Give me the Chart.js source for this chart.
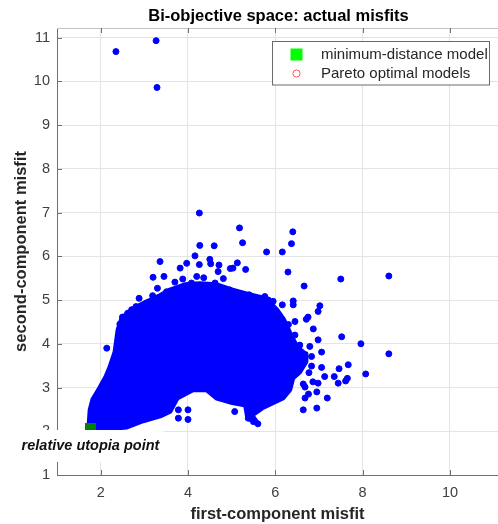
<!DOCTYPE html>
<html>
<head>
<meta charset="utf-8">
<title>Bi-objective space: actual misfits</title>
<script src="https://cdn.jsdelivr.net/npm/chart.js@4.4.1/dist/chart.umd.min.js"></script>
<style>
  html, body { margin: 0; padding: 0; background: #ffffff; }
  #wrap { width: 498px; height: 524px; position: relative; }
</style>
</head>
<body>
<div id="wrap"><canvas id="chart" width="498" height="524"></canvas></div>
<script>
// ---- axis ticks ----
const xTickValues = [2, 4, 6, 8, 10];
const yTickValues = [1, 2, 3, 4, 5, 6, 7, 8, 9, 10, 11];

// ---- minimum-distance model (relative utopia point) ----
const utopiaX = [1.767];
const utopiaY = [2.063];

// ---- Pareto optimal models ----
const paretoX = [1.767];
const paretoY = [2.063];

// ---- outline of the dense block of models (first / second misfit) ----
const cloudX = [1.73, 1.76, 1.82, 1.98, 2.12, 2.21, 2.33, 2.40, 2.49, 2.78, 3.06, 3.36, 3.59, 3.93, 4.27, 4.64, 5.00, 5.42, 5.78, 6.03,
                6.19, 6.33, 6.49, 6.68, 6.70, 6.56, 6.40, 6.33, 6.17, 5.94, 5.69, 5.46, 5.58, 5.37, 5.32, 4.96, 4.66, 4.43, 4.11, 3.75,
                3.59, 3.36, 2.97, 2.60, 2.21, 1.73];
const cloudY = [2.06, 2.49, 2.72, 2.99, 3.24, 3.45, 3.81, 4.32, 4.59, 4.82, 4.96, 5.10, 5.23, 5.35, 5.37, 5.35, 5.23, 5.12, 5.03, 4.78,
                4.55, 4.25, 3.93, 3.77, 3.59, 3.36, 3.22, 2.95, 2.76, 2.65, 2.53, 2.37, 2.19, 2.30, 2.60, 2.67, 2.76, 2.95, 2.95, 2.76,
                2.46, 2.35, 2.24, 2.10, 2.06, 2.06];

// ---- individual models around the dense block ----
const modelX = [2.35, 3.27, 3.29,
  4.26, 5.18, 6.40, 4.27, 4.60, 5.25, 6.37, 5.80, 6.16, 4.16, 3.36, 4.50, 4.52, 5.13, 4.71, 4.26, 3.97,
  3.82, 5.32, 4.97, 4.69, 6.29, 7.50, 8.60, 6.66, 4.36, 3.20, 3.45, 3.88, 3.70, 3.30, 2.88, 3.19, 2.81, 2.50,
  3.51, 4.39, 4.62, 4.81, 4.96, 4.08, 3.97, 3.05, 3.19, 3.39, 4.20, 5.03,
  6.41, 6.41, 7.02, 6.98, 6.75, 6.16, 5.95, 5.76, 5.40, 5.84, 6.71, 6.87, 6.98, 7.06, 7.52, 7.96, 8.60, 8.07,
  7.67, 7.46, 7.35, 7.65, 7.61, 7.44, 7.19, 6.95, 6.64, 6.95, 6.76, 6.68, 7.13, 7.06, 6.79, 6.83, 6.83, 6.77,
  6.86, 6.98, 6.64, 6.68, 6.45, 6.56, 6.45, 6.30,
  3.78, 4.00, 3.78, 4.00, 5.07, 5.38, 5.60, 5.50, 2.14,
  2.98, 2.71, 2.62, 2.44];
const modelY = [10.68, 10.93, 9.86,
  6.99, 6.65, 6.56, 6.25, 6.24, 6.31, 6.29, 6.10, 6.10, 6.01, 5.88, 5.93, 5.83, 5.85, 5.80, 5.81, 5.84,
  5.73, 5.70, 5.72, 5.65, 5.64, 5.48, 5.55, 5.32, 5.51, 5.52, 5.54, 5.48, 5.41, 5.27, 5.04, 5.10, 4.85, 4.61,
  5.19, 5.27, 5.39, 5.49, 5.23, 5.39, 5.25, 4.93, 4.81, 5.00, 5.54, 5.73,
  4.98, 4.89, 4.87, 4.74, 4.61, 4.89, 4.97, 5.08, 5.12, 5.00, 4.56, 4.34, 4.09, 3.81, 4.16, 4.00, 3.77, 3.31,
  3.52, 3.43, 3.25, 3.21, 3.15, 3.10, 2.76, 2.53, 2.49, 2.90, 2.85, 2.76, 3.25, 3.46, 3.94, 3.71, 3.49, 3.34,
  3.13, 3.10, 3.08, 3.01, 4.20, 3.97, 4.51, 4.44,
  2.49, 2.49, 2.30, 2.27, 2.45, 2.30, 2.17, 2.22, 3.90,
  4.70, 4.78, 4.70, 4.45];

const FONT = '"Liberation Sans", Arial, Helvetica, sans-serif';
const BLUE = '#0000ff';
const toPoints = (xs, ys) => xs.map((x, i) => ({ x: x, y: ys[i] }));

// keep the plot area flush with the fixed axis sizes
const noEdgePadding = s => { s.paddingLeft = 0; s.paddingRight = 0; s.paddingTop = 0; s.paddingBottom = 0; };

// Title, box top edge and inward tick marks
const axesFrame = {
  id: 'axesFrame',
  afterDatasetsDraw(chart) {
    const { ctx, chartArea: a, scales: { x, y } } = chart;
    ctx.save();
    ctx.strokeStyle = '#c4c4c4';
    ctx.lineWidth = 1;
    ctx.beginPath();
    ctx.moveTo(a.left, a.top + 0.5);
    ctx.lineTo(a.right, a.top + 0.5);
    ctx.stroke();
    ctx.strokeStyle = '#707070';
    ctx.beginPath();
    xTickValues.forEach(v => {
      const px = Math.round(x.getPixelForValue(v)) + 0.5;
      ctx.moveTo(px, a.bottom); ctx.lineTo(px, a.bottom - 5);
      ctx.moveTo(px, a.top); ctx.lineTo(px, a.top + 5);
    });
    yTickValues.forEach(v => {
      const py = Math.round(y.getPixelForValue(v)) + 0.5;
      ctx.moveTo(a.left, py); ctx.lineTo(a.left + 5, py);
    });
    ctx.stroke();

    ctx.fillStyle = '#000000';
    ctx.font = 'bold 16.5px ' + FONT;
    ctx.textAlign = 'center';
    ctx.textBaseline = 'middle';
    ctx.fillText('Bi-objective space: actual misfits', (a.left + a.right) / 2 + 1, 16);
    ctx.restore();
  }
};

// Text label under the utopia point, on a white background
const utopiaLabel = {
  id: 'utopiaLabel',
  afterDatasetsDraw(chart) {
    const { ctx, scales: { x, y } } = chart;
    const cx = x.getPixelForValue(utopiaX[0]);
    const top = y.getPixelForValue(utopiaY[0]) + 1.5;
    const text = 'relative utopia point';
    ctx.save();
    ctx.font = 'italic bold 14.5px ' + FONT;
    const w = ctx.measureText(text).width;
    ctx.fillStyle = '#ffffff';
    ctx.fillRect(cx - w / 2 - 4, top, w + 8, 32);
    ctx.fillStyle = '#111111';
    ctx.textAlign = 'center';
    ctx.textBaseline = 'middle';
    ctx.fillText(text, cx, top + 16);
    ctx.restore();
  }
};

// Legend box in the upper right corner
const legendBox = {
  id: 'legendBox',
  afterDraw(chart) {
    const { ctx, chartArea: a } = chart;
    const ds = chart.data.datasets;
    const left = 272.5, top = a.top + 13.5;
    const textX = left + 48.5;
    ctx.save();
    ctx.font = '15px ' + FONT;
    const w = Math.max(ctx.measureText(ds[0].label).width, ctx.measureText(ds[1].label).width);
    const right = Math.round(textX + w + 1) + 0.5;
    ctx.fillStyle = '#ffffff';
    ctx.fillRect(left, top, right - left, 43.5);
    ctx.strokeStyle = '#6a6a6a';
    ctx.lineWidth = 1;
    ctx.strokeRect(left, top, right - left, 43.5);
    // entry 1: filled square
    ctx.fillStyle = '#00ff00';
    ctx.fillRect(left + 18, top + 7, 12, 12);
    // entry 2: open circle
    ctx.strokeStyle = 'rgba(255,0,0,0.65)';
    ctx.beginPath();
    ctx.arc(left + 24, top + 32, 3.6, 0, Math.PI * 2);
    ctx.stroke();
    ctx.fillStyle = '#262626';
    ctx.textAlign = 'left';
    ctx.textBaseline = 'middle';
    ctx.fillText(ds[0].label, textX, top + 13);
    ctx.fillText(ds[1].label, textX, top + 32);
    ctx.restore();
  }
};

new Chart(document.getElementById('chart'), {
  type: 'scatter',
  data: {
    datasets: [
      {
        label: 'minimum-distance model',
        data: toPoints(utopiaX, utopiaY),
        pointStyle: 'rect',
        pointRadius: 7.8,
        backgroundColor: '#008000',
        borderColor: '#008000',
        borderWidth: 0,
        order: 0
      },
      {
        label: 'Pareto optimal models',
        data: toPoints(paretoX, paretoY),
        pointStyle: 'circle',
        pointRadius: 3.5,
        backgroundColor: 'rgba(0,0,0,0)',
        borderColor: '#ff0000',
        borderWidth: 1,
        order: 3
      },
      {
        label: 'models',
        data: toPoints(modelX, modelY),
        pointRadius: 3,
        borderWidth: 1,
        backgroundColor: BLUE,
        borderColor: BLUE,
        order: 1
      },
      {
        label: 'models (dense)',
        data: toPoints(cloudX, cloudY),
        showLine: true,
        fill: 'shape',
        tension: 0,
        pointRadius: 0,
        borderWidth: 5,
        borderJoinStyle: 'round',
        borderCapStyle: 'round',
        backgroundColor: BLUE,
        borderColor: BLUE,
        order: 2
      }
    ]
  },
  options: {
    responsive: false,
    animation: false,
    events: [],
    devicePixelRatio: 1,
    layout: { autoPadding: false, padding: { top: 28, left: 0, right: 0, bottom: 0 } },
    plugins: {
      legend: { display: false },
      tooltip: { enabled: false },
      title: { display: false }
    },
    scales: {
      x: {
        type: 'linear',
        min: 1,
        max: 11.1,
        afterBuildTicks: s => { s.ticks = xTickValues.map(v => ({ value: v })); },
        afterFit: s => { s.height = 49; noEdgePadding(s); },
        grid: { color: '#e4e4e4', drawTicks: false, lineWidth: 1 },
        border: { display: true, color: '#707070', width: 1 },
        ticks: { font: { family: FONT, size: 14.5 }, color: '#404040', padding: 9, maxRotation: 0, autoSkip: false },
        title: {
          display: true, text: 'first-component misfit', color: '#262626',
          font: { family: FONT, size: 16.5, weight: 'bold' }, padding: { top: 0, bottom: 0 }
        }
      },
      y: {
        type: 'linear',
        min: 1,
        max: 11.22,
        afterBuildTicks: s => { s.ticks = yTickValues.map(v => ({ value: v })); },
        afterFit: s => { s.width = 57; noEdgePadding(s); },
        grid: { color: '#e4e4e4', drawTicks: false, lineWidth: 1 },
        border: { display: true, color: '#707070', width: 1 },
        ticks: { font: { family: FONT, size: 14.5 }, color: '#404040', padding: 7, autoSkip: false },
        title: {
          display: true, text: 'second-component misfit', color: '#262626',
          font: { family: FONT, size: 16.5, weight: 'bold' }, padding: { top: 11.3, bottom: 0 }
        }
      }
    }
  },
  plugins: [axesFrame, utopiaLabel, legendBox]
});
</script>
</body>
</html>
